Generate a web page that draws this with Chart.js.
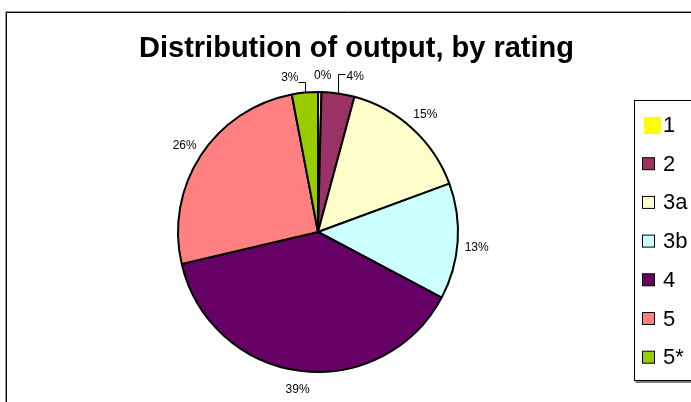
<!DOCTYPE html>
<html>
<head>
<meta charset="utf-8">
<script src="https://cdn.jsdelivr.net/npm/chart.js@4/dist/chart.umd.min.js"></script>
<style>
  html, body { margin: 0; padding: 0; background: #fff; }
  #wrap { position: relative; width: 691px; height: 402px; }
</style>
</head>
<body>
<div id="wrap"><canvas id="c" width="691" height="402"></canvas></div>
<script>
// ---- data ----
const categories = ['1', '2', '3a', '3b', '4', '5', '5*'];
const shares = [0.4, 3.8, 15.2, 13.4, 38.6, 25.7, 3.0];
const sliceColors = ['#FFFF00', '#993366', '#FFFFCC', '#CCFFFF', '#660066', '#FF8080', '#99CC00'];
const chartTitle = 'Distribution of output, by rating';

const FONT = '"Liberation Sans", Arial, Helvetica, sans-serif';

// frame + title + legend
const decorPlugin = {
  id: 'decor',
  beforeDraw(chart) {
    const ctx = chart.ctx;
    ctx.save();
    ctx.fillStyle = '#fff';
    ctx.fillRect(0, 0, chart.width, chart.height);
    ctx.strokeStyle = '#9a9a9a';
    ctx.lineWidth = 1;
    ctx.beginPath();
    ctx.moveTo(5.5, chart.height); ctx.lineTo(5.5, 11.5); ctx.lineTo(chart.width, 11.5);
    ctx.stroke();
    ctx.strokeStyle = '#000';
    ctx.beginPath();
    ctx.moveTo(6.5, chart.height); ctx.lineTo(6.5, 12.5); ctx.lineTo(chart.width, 12.5);
    ctx.stroke();
    ctx.restore();
  },
  afterDraw(chart) {
    const ctx = chart.ctx;
    ctx.save();
    // title
    ctx.fillStyle = '#000';
    ctx.font = 'bold 29px ' + FONT;
    ctx.textAlign = 'center';
    ctx.textBaseline = 'alphabetic';
    ctx.fillText(chartTitle, 356.5, 57, 443);

    // legend box
    const bx = 634.5, by = 100.5, bh = 280;
    ctx.strokeStyle = '#7a7a7a';
    ctx.lineWidth = 2;
    ctx.beginPath();
    ctx.moveTo(bx + 1, by + bh + 1.5); ctx.lineTo(chart.width, by + bh + 1.5);
    ctx.stroke();
    ctx.strokeStyle = '#000';
    ctx.lineWidth = 1;
    ctx.strokeRect(bx, by, 100, bh);

    const ds = chart.data.datasets[0];
    ctx.font = '22px ' + FONT;
    ctx.textAlign = 'left';
    ctx.textBaseline = 'middle';
    chart.data.labels.forEach((lab, i) => {
      const cy = 125 + i * 38.7;
      ctx.fillStyle = ds.backgroundColor[i];
      if (i === 0) {
        ctx.fillRect(644, cy - 8, 17, 17);
      } else {
        ctx.fillRect(642.5, cy - 6, 12, 12);
        ctx.strokeStyle = '#000';
        ctx.lineWidth = 1;
        ctx.strokeRect(642.5, cy - 6, 12, 12);
      }
      ctx.fillStyle = '#000';
      ctx.fillText(lab, 663, cy + 1);
    });
    ctx.restore();
  }
};

// percentage labels
const labelPlugin = {
  id: 'pctLabels',
  afterDatasetsDraw(chart) {
    const ctx = chart.ctx;
    const meta = chart.getDatasetMeta(0);
    const total = shares.reduce((a, b) => a + b, 0);
    ctx.save();
    ctx.font = '12px ' + FONT;
    ctx.fillStyle = '#000';
    ctx.strokeStyle = '#000';
    ctx.lineWidth = 1;
    ctx.textBaseline = 'middle';
    meta.data.forEach((arc, i) => {
      const { x, y, startAngle, endAngle, outerRadius } = arc.getProps(['x', 'y', 'startAngle', 'endAngle', 'outerRadius'], true);
      const mid = (startAngle + endAngle) / 2;
      const txt = Math.round(shares[i] / total * 100) + '%';
      const ex = x + Math.cos(mid) * outerRadius;
      const ey = y + Math.sin(mid) * outerRadius;
      if (i === 0) {
        ctx.textAlign = 'center';
        ctx.fillText(txt, ex + 3, ey - 16);
      } else if (i === 1) {
        const lx = Math.round(ex) + 0.5;
        ctx.beginPath();
        ctx.moveTo(lx, ey); ctx.lineTo(lx, ey - 19); ctx.lineTo(lx + 7, ey - 19);
        ctx.stroke();
        ctx.textAlign = 'left';
        ctx.fillText(txt, lx + 8, ey - 17);
      } else if (i === 6) {
        const lx = Math.round(ex) + 0.5;
        const ly = Math.round(ey - 11) + 0.5;
        ctx.beginPath();
        ctx.moveTo(lx, ey); ctx.lineTo(lx, ly); ctx.lineTo(lx - 7, ly);
        ctx.stroke();
        ctx.textAlign = 'right';
        ctx.fillText(txt, lx - 7, ly - 5);
      } else {
        const r = outerRadius + 19;
        const cx = x + Math.cos(mid) * r;
        let cy = y + Math.sin(mid) * r;
        if (Math.abs(Math.cos(mid)) > 0.9) cy += 5;
        ctx.textAlign = 'center';
        ctx.fillText(txt, cx, cy);
      }
    });
    ctx.restore();
  }
};

new Chart(document.getElementById('c'), {
  type: 'pie',
  data: {
    labels: categories,
    datasets: [{
      data: shares,
      backgroundColor: sliceColors,
      borderColor: '#000',
      borderWidth: 2,
      borderAlign: 'center'
    }]
  },
  options: {
    responsive: false,
    animation: false,
    rotation: 0,
    layout: { padding: { left: 177, right: 232, top: 91, bottom: 29 } },
    plugins: {
      legend: { display: false },
      title: { display: false },
      tooltip: { enabled: false }
    }
  },
  plugins: [decorPlugin, labelPlugin]
});
</script>
</body>
</html>
